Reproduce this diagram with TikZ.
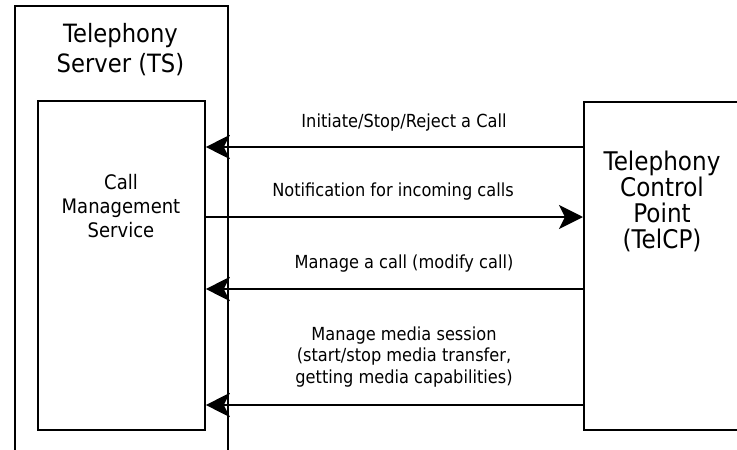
\documentclass[tikz,border=0pt]{standalone}
\usepackage{fontspec}
\setmainfont{DejaVu Sans}[FakeStretch=0.9]
\usetikzlibrary{arrows.meta}
\begin{document}
\begin{tikzpicture}[x=1pt, y=-1pt,
	box/.style={draw, line width=1.8pt, inner sep=0pt, anchor=north west},
	msg/.style={line width=2.5pt, -{Stealth[length=24pt, width=24pt, inset=6pt]}},
	bigtxt/.style={align=center, font=\fontsize{25.2}{30}\selectfont},
	lbl/.style={align=center, font=\fontsize{18}{21.5}\selectfont}]

	\useasboundingbox (0,0) rectangle (737,450);
	\clip (0,0) rectangle (737,450);

	\node[box, minimum width=213pt, minimum height=480pt] (ts) at (14,5) {};
	\node[box, minimum width=167pt, minimum height=329pt] (cms) at (37,100) {};
	\node[box, minimum width=300pt, minimum height=328pt] (telcp) at (583,101) {};

	\node[bigtxt] (tstitle) at (120.5,50) {Telephony\\Server (TS)};
	\node[bigtxt, font=\fontsize{25.7}{26}\selectfont] (telcptxt) at (662,201) {Telephony\\Control\\Point\\(TelCP)};
	\node[align=center, font=\fontsize{20}{24}\selectfont] (cmstxt) at (121,206) {Call\\Management\\Service};

	\draw[msg] (telcp.west |- 0,147) -- (cms.east |- 0,147);
	\draw[msg] (cms.east |- 0,217) -- (telcp.west |- 0,217);
	\draw[msg] (telcp.west |- 0,289) -- (cms.east |- 0,289);
	\draw[msg] (telcp.west |- 0,405) -- (cms.east |- 0,405);

	\node[lbl] (initiate) at (404,123) {Initiate/Stop/Reject a Call};
	\node[lbl] (notify) at (393,192) {Notification for incoming calls};
	\node[lbl] (manage) at (404,264) {Manage a call (modify call)};
	\node[lbl] (media) at (404,357) {Manage media session\\(start/stop media transfer,\\getting media capabilities)};
\end{tikzpicture}
\end{document}
